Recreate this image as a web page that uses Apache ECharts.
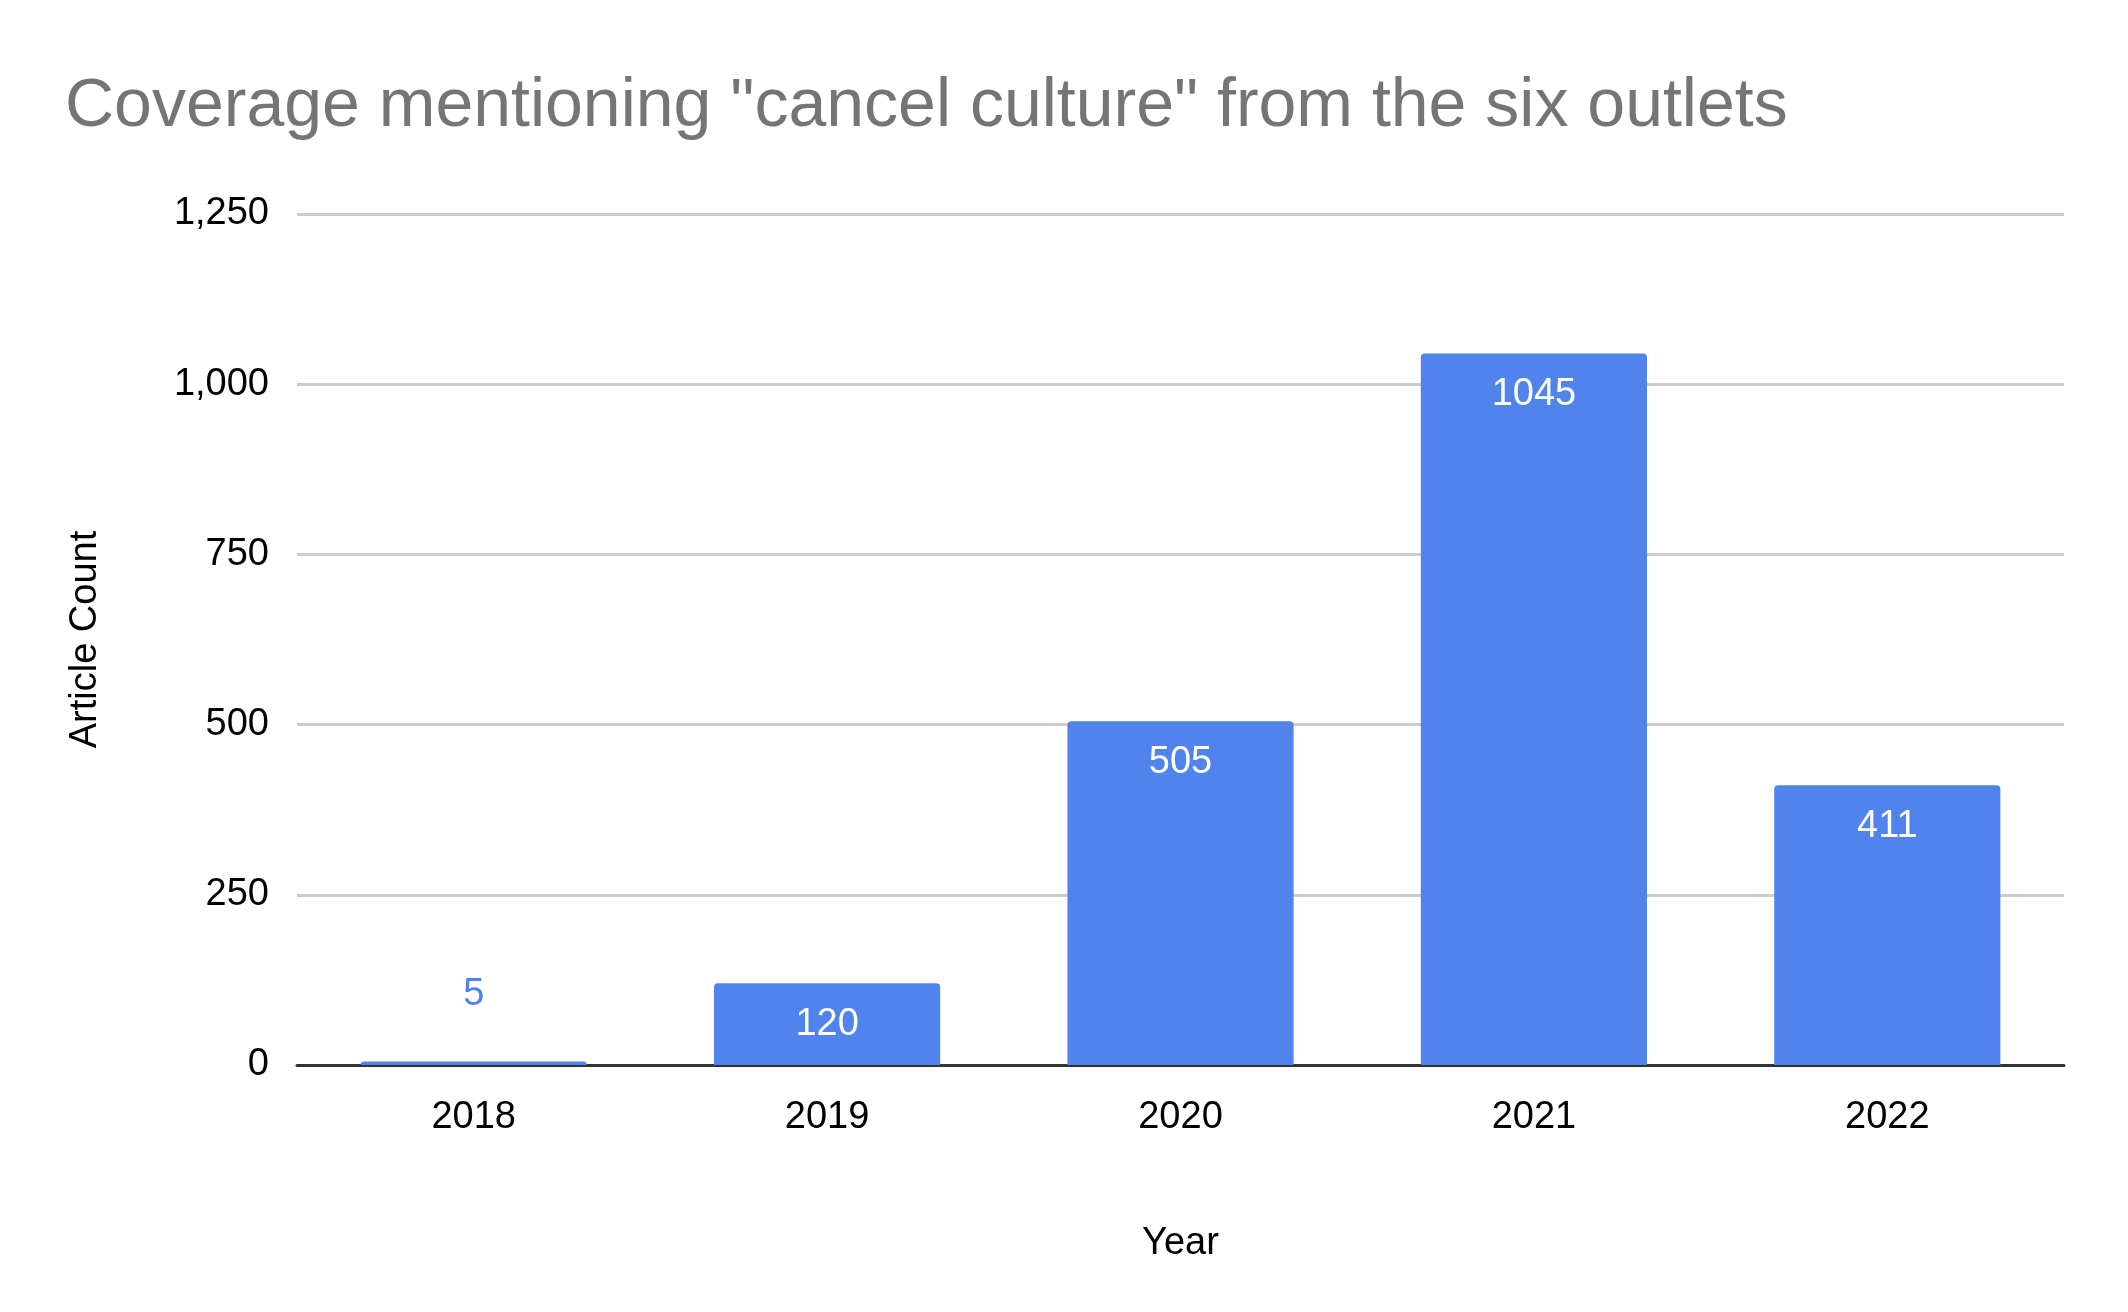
<!DOCTYPE html>
<html><head><meta charset="utf-8">
<script src="https://cdn.jsdelivr.net/npm/echarts@6/dist/echarts.min.js"></script>
<style>html,body{margin:0;background:#fff}#c{width:2128px;height:1312px}</style>
</head><body><div id="c"></div>
<script>
const years = ['2018', '2019', '2020', '2021', '2022'];
const counts = [5, 120, 505, 1045, 411];
const yTicks = [0, 250, 500, 750, 1000, 1250];

const chart = echarts.init(document.getElementById('c'));
chart.setOption({
  animation: false,
  textStyle: { fontFamily: 'Liberation Sans, Arial, sans-serif' },
  title: {
    text: 'Coverage mentioning "cancel culture" from the six outlets',
    left: 60, top: 68,
    textStyle: { fontSize: 68, fontWeight: 'normal', color: '#757575' }
  },
  grid: { left: 297, right: 64, top: 214, bottom: 247 },
  xAxis: {
    type: 'category', data: years,
    name: 'Year', nameLocation: 'middle', nameGap: 160,
    nameTextStyle: { fontSize: 38, color: '#000' },
    axisLine: { lineStyle: { color: '#333', width: 3 } },
    axisTick: { show: false },
    axisLabel: { fontSize: 38, color: '#000', margin: 34 }
  },
  yAxis: {
    type: 'value', min: yTicks[0], max: yTicks[yTicks.length - 1], interval: 250,
    name: 'Article Count', nameLocation: 'middle', nameGap: 192,
    nameTextStyle: { fontSize: 38, color: '#000' },
    axisLabel: { fontSize: 38, color: '#000', margin: 28 },
    splitLine: { lineStyle: { color: '#cccccc', width: 3 } }
  },
  series: [{
    type: 'bar', barCategoryGap: '36%',
    data: counts.map(v => ({
      value: v,
      label: v < 50
        ? { position: 'top', distance: 48, color: '#5083ec' }
        : { position: 'insideTop', distance: 22, color: '#fff' }
    })),
    itemStyle: { color: '#5083ec', borderRadius: [4, 4, 0, 0] },
    label: { show: true, fontSize: 38 }
  }]
});
</script></body></html>
